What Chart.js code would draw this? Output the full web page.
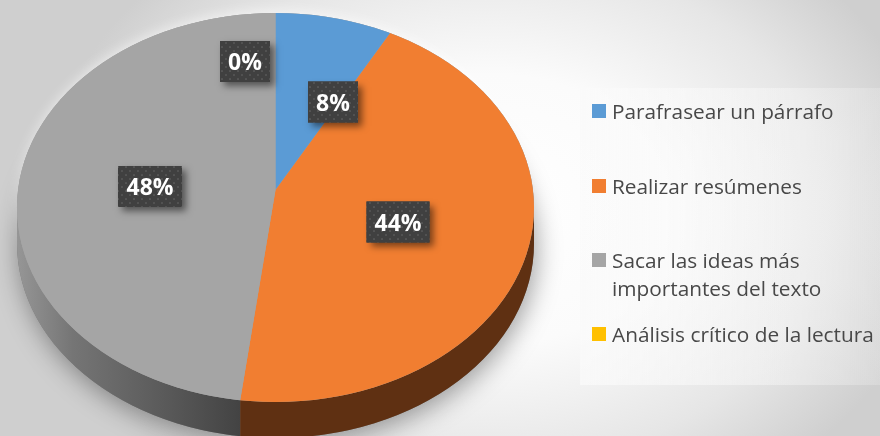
<!DOCTYPE html>
<html><head><meta charset="utf-8">
<style>html,body{margin:0;padding:0;background:#fff}#w{position:relative;width:880px;height:436px;overflow:hidden;background:radial-gradient(ellipse 450px 340px at 490px 210px,#ffffff 0%,#fbfbfb 40%,#e6e6e6 75%,#cfcfcf 100%)}canvas{display:block}</style>
<script src="https://cdn.jsdelivr.net/npm/chart.js@4/dist/chart.umd.min.js"></script>
</head><body><div id="w"><canvas id="c" width="880" height="436"></canvas></div>
<script>
const categories=["Parafrasear un párrafo","Realizar resúmenes","Sacar las ideas más importantes del texto","Análisis crítico de la lectura"];
const legendLines=[["Parafrasear un párrafo"],["Realizar resúmenes"],["Sacar las ideas más","importantes del texto"],["Análisis crítico de la lectura"]];
const values=[8,44,48,0];
const labels=["8%","44%","48%","0%"];
const colors=["#5B9BD5","#F17E31","#A5A5A5","#FFC000"];

const E={cx:275.5,cy:207.5,rx:258.5,ry:194.5,depth:36};
const APEX_Y=190, SY=E.ry/E.rx;
const boxes=[{x:333,y:102,w:50},{x:398,y:222,w:63},{x:150,y:186.5,w:64},{x:245,y:61.5,w:50}];
const BH=41;
const legendLayout={x:592,sw:14,tx:612,ys:[[111],[186],[260,288],[334]]};

function ellipsePath(ctx,dy){ctx.beginPath();ctx.ellipse(E.cx,E.cy+(dy||0),E.rx,E.ry,0,0,Math.PI*2);}
function rimX(a){
  const dx=Math.cos(a),dy=Math.sin(a)*SY,oy=APEX_Y-E.cy;
  const A=dx*dx/(E.rx*E.rx)+dy*dy/(E.ry*E.ry),B=2*oy*dy/(E.ry*E.ry),C=oy*oy/(E.ry*E.ry)-1;
  const t=(-B+Math.sqrt(B*B-4*A*C))/(2*A);return E.cx+dx*t;
}
const patternCanvas=document.createElement('canvas');patternCanvas.width=patternCanvas.height=8;
(function(){const p=patternCanvas.getContext('2d');p.fillStyle='#404040';p.fillRect(0,0,8,8);p.fillStyle='#565656';p.beginPath();p.arc(2,3,1.1,0,7);p.arc(6,7,1.1,0,7);p.fill();})();

const pieFace={id:'pieFace',
 beforeDatasetsDraw(chart){
  const ctx=chart.ctx,arcs=chart.getDatasetMeta(0).data;
  ctx.save();ctx.shadowColor='rgba(255,255,255,.5)';ctx.shadowBlur=12;ctx.shadowOffsetY=-3;ctx.fillStyle='#aaa';ellipsePath(ctx);ctx.fill();ctx.restore();
  ctx.save();ctx.shadowColor='rgba(0,0,0,.38)';ctx.shadowBlur=26;ctx.shadowOffsetY=6;ctx.shadowOffsetX=2;ctx.fillStyle='#777';ellipsePath(ctx,E.depth);ctx.fill();ctx.restore();
  ctx.save();ctx.beginPath();ctx.ellipse(E.cx,E.cy+E.depth,E.rx,E.ry,0,0,Math.PI*2);ctx.rect(E.cx-E.rx,E.cy,E.rx*2,E.depth);ctx.clip('nonzero');
  const sideGray=ctx.createLinearGradient(E.cx-E.rx,0,241,0);sideGray.addColorStop(0,'#969696');sideGray.addColorStop(.25,'#757575');sideGray.addColorStop(1,'#434343');
  const sep=rimX(arcs[1].endAngle);
  ctx.fillStyle=sideGray;ctx.fillRect(E.cx-E.rx,0,sep-(E.cx-E.rx),500);
  ctx.fillStyle='#5f3012';ctx.fillRect(sep,0,E.cx+E.rx-sep,500);
  ctx.restore();
  ctx.save();ellipsePath(ctx);ctx.fillStyle=colors[2];ctx.fill();ctx.clip();
  ctx.translate(E.cx,APEX_Y);ctx.scale(1,SY);ctx.translate(-chart.chartArea.left-chart.chartArea.width/2,-chart.chartArea.top-chart.chartArea.height/2);
 },
 afterDatasetsDraw(chart){
  const ctx=chart.ctx;ctx.restore();
  ctx.save();ctx.textAlign='center';ctx.textBaseline='middle';
  const pat=ctx.createPattern(patternCanvas,'repeat');
  labels.forEach((t,i)=>{const b=boxes[i];
    ctx.save();ctx.shadowColor='rgba(0,0,0,.5)';ctx.shadowBlur=7;ctx.shadowOffsetX=4;ctx.shadowOffsetY=4;ctx.fillStyle='#404040';ctx.fillRect(b.x-b.w/2,b.y-BH/2,b.w,BH);ctx.restore();
    ctx.fillStyle=pat;ctx.fillRect(b.x-b.w/2,b.y-BH/2,b.w,BH);
    ctx.fillStyle='#fff';ctx.font='bold 23px "Open Sans"';ctx.fillText(t,b.x,b.y+2);
  });
  ctx.restore();
  ctx.save();
  const pg=ctx.createLinearGradient(580,0,880,0);pg.addColorStop(0,'rgba(250,250,250,.75)');pg.addColorStop(.6,'rgba(250,250,250,.45)');pg.addColorStop(1,'rgba(250,250,250,.22)');
  ctx.fillStyle=pg;ctx.fillRect(580,88,300,297);
  ctx.font='20.8px "Open Sans"';ctx.textBaseline='middle';ctx.textAlign='left';
  legendLines.forEach((ls,i)=>{const yy=legendLayout.ys[i];
    ctx.fillStyle=colors[i];ctx.fillRect(legendLayout.x,yy[0]-7,legendLayout.sw,14);
    ctx.fillStyle='#484848';ls.forEach((s,j)=>ctx.fillText(s,legendLayout.tx,yy[j]+2));
  });
  ctx.restore();
 }};

new Chart(document.getElementById('c'),{type:'pie',
 data:{labels:categories,datasets:[{data:values,backgroundColor:colors,borderWidth:0}]},
 options:{responsive:false,animation:false,radius:900,layout:{padding:0},
  plugins:{legend:{display:false},tooltip:{enabled:false},title:{display:false}}},
 plugins:[pieFace]});
</script></body></html>
